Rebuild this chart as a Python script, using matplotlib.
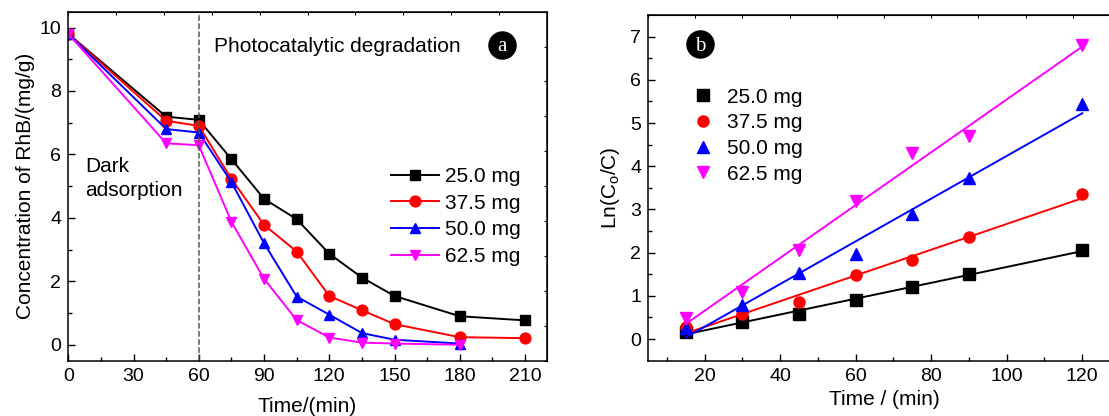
import numpy as np
import matplotlib
matplotlib.use('Agg')
import matplotlib.pyplot as plt

plt.rcParams['font.family'] = ['Liberation Sans', 'DejaVu Sans']
plt.rcParams['mathtext.default'] = 'regular'

# panel a: concentration of RhB vs time
time_a = [0, 45, 60, 75, 90, 105, 120, 135, 150, 180, 210]
conc_25 = [9.8, 7.19, 7.09, 5.85, 4.6, 3.96, 2.87, 2.12, 1.54, 0.9, 0.77]
conc_37 = [9.8, 7.06, 6.9, 5.23, 3.78, 2.94, 1.54, 1.09, 0.65, 0.24, 0.21]
conc_50 = [9.8, 6.8, 6.69, 5.13, 3.2, 1.52, 0.95, 0.37, 0.16, 0.04]
conc_62 = [9.8, 6.35, 6.29, 3.88, 2.08, 0.78, 0.23, 0.07, 0.04, 0.0]

# panel b: ln(C0/C) vs time
time_b = [15, 30, 45, 60, 75, 90, 120]
ln_25 = [0.17, 0.4, 0.58, 0.9, 1.21, 1.5, 2.06]
ln_37 = [0.28, 0.58, 0.85, 1.49, 1.84, 2.36, 3.35]
ln_50 = [0.26, 0.78, 1.52, 1.96, 2.9, 3.72, 5.43]
ln_62 = [0.48, 1.09, 2.07, 3.19, 4.3, 4.69, 6.8]

labels = ['25.0 mg', '37.5 mg', '50.0 mg', '62.5 mg']
colors = ['black', 'red', 'blue', 'magenta']
markers = ['s', 'o', '^', 'v']

fig = plt.figure(figsize=(11.09, 4.16), dpi=100)
ax1 = fig.add_axes([0.0616, 0.133, 0.4314, 0.839])
ax2 = fig.add_axes([0.5843, 0.133, 0.4256, 0.831])


def style_axis(ax):
    for sp in ax.spines.values():
        sp.set_linewidth(1.1)
    ax.tick_params(which='both', direction='in', labelsize=14, width=1)
    ax.tick_params(which='major', length=5, pad=5)
    ax.tick_params(which='minor', length=3)


def badge(ax, x, y, letter):
    ax.plot([x], [y], 'o', ms=19.5, color='black', transform=ax.transAxes, clip_on=False)
    ax.text(x, y - 0.005, letter, transform=ax.transAxes, color='white', ha='center', va='center',
            fontsize=15, family='Liberation Serif')


# ---- panel a
conc_all = [conc_25, conc_37, conc_50, conc_62]
for c, lab, col, mk in zip(conc_all, labels, colors, markers):
    ax1.plot(time_a[:len(c)], c, color=col, marker=mk, ms=7.8, lw=1.4, label=lab)

ax1.axvline(60, color='#555555', ls='--', lw=1.1)
ax1.set_xlim(0, 220)
ax1.set_ylim(-0.5, 10.5)
ax1.set_xticks(np.arange(0, 211, 30))
ax1.set_xticks(np.arange(15, 220, 30), minor=True)
ax1.set_yticks(np.arange(0, 11, 2))
ax1.set_yticks(np.arange(1, 10, 2), minor=True)
style_axis(ax1)
ax1.set_xlabel('Time/(min)', fontsize=15, labelpad=9)
ax1.set_ylabel('Concentration of RhB/(mg/g)', fontsize=15, labelpad=3)

top1 = ax1.secondary_xaxis('top')
top1.set_xticks(np.linspace(0, 220, 11))
top1.tick_params(direction='in', length=2.5, labeltop=False)
right1 = ax1.secondary_yaxis('right')
right1.set_yticks(np.linspace(-0.5, 10.5, 11))
right1.tick_params(direction='in', length=2.5, labelright=False)

ax1.text(0.3037, 0.8997, 'Photocatalytic degradation', transform=ax1.transAxes, fontsize=15, va='center')
ax1.text(0.035, 0.522, 'Dark\nadsorption', transform=ax1.transAxes, fontsize=15, va='center',
         linespacing=1.35)
badge(ax1, 0.906, 0.905, 'a')

ax1.legend(loc='upper left', bbox_to_anchor=(0.6745, 0.555), frameon=False, fontsize=15,
           handlelength=2.3, handletextpad=0.3, labelspacing=0.37, borderpad=0, borderaxespad=0)

# ---- panel b
ln_all = [ln_25, ln_37, ln_50, ln_62]
t_fit = np.array([time_b[0], time_b[-1]])
for v, lab, col, mk in zip(ln_all, labels, colors, markers):
    ax2.plot(time_b, v, ls='none', color=col, marker=mk, ms=8, label=lab)
    k, b = np.polyfit(time_b, v, 1)
    ax2.plot(t_fit, k * t_fit + b, color=col, lw=1.4)

ax2.set_xlim(5, 130)
ax2.set_ylim(-0.5, 7.5)
ax2.set_xticks(np.arange(20, 121, 20))
ax2.set_xticks(np.arange(10, 130, 20), minor=True)
ax2.set_yticks(np.arange(0, 8, 1))
ax2.set_yticks(np.arange(0.5, 7.5, 1), minor=True)
style_axis(ax2)
ax2.set_xlabel('Time / (min)', fontsize=15, labelpad=4)
ax2.set_ylabel('Ln(C$_{o}$/C)', fontsize=15, labelpad=6)

top2 = ax2.secondary_xaxis('top')
top2.set_xticks(np.linspace(5, 130, 11))
top2.tick_params(direction='in', length=2.5, labeltop=False)

badge(ax2, 0.110, 0.915, 'b')
ax2.legend(loc='upper left', bbox_to_anchor=(0.0826, 0.79), frameon=False, fontsize=15,
           handlelength=1.5, handletextpad=0.4, labelspacing=0.32, borderpad=0, borderaxespad=0,
           numpoints=1)

fig.savefig('out.png', dpi=100)
